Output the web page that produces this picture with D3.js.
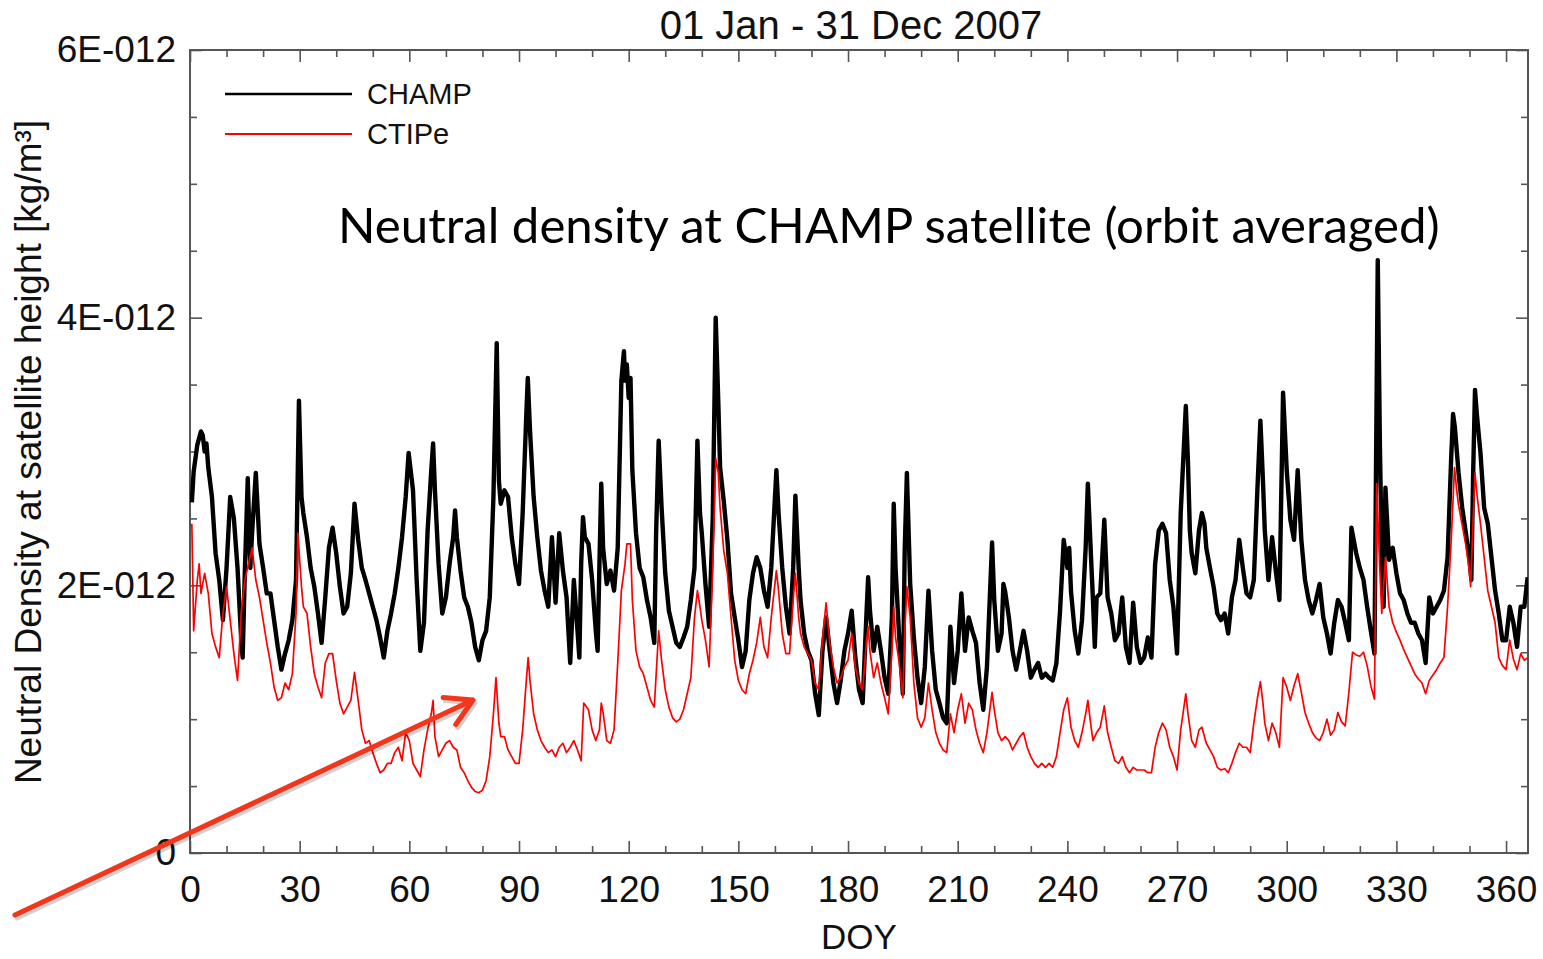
<!DOCTYPE html>
<html><head><meta charset="utf-8">
<script src="https://cdn.jsdelivr.net/npm/d3@7"></script>
<style>
body{margin:0;background:#fff}
svg{display:block}
</style></head>
<body><svg id="c" width="1543" height="959"></svg>
<script>
// Orbit-averaged neutral density, values in units of 1E-012 kg/m^3, keyed by day of year
const champ = [[0.5,2.62],[1,2.85],[2,3.05],[3,3.15],[3.5,3.12],[4,3.0],[4.5,3.06],[5,2.88],[6,2.66],[7,2.24],[8,2.04],[9,1.74],[10,2.13],[11,2.66],[12,2.5],[13,2.13],[14,1.6],[14.4,1.46],[15,2.1],[15.8,2.8],[16.5,2.13],[17,2.4],[18,2.84],[19,2.31],[20,2.13],[21,1.94],[22,1.94],[23,1.74],[24,1.54],[25,1.37],[26,1.49],[27,1.59],[28,1.74],[29,2.04],[29.8,3.38],[30.5,2.66],[31,2.54],[32,2.36],[33,2.13],[34,1.99],[35,1.79],[36,1.57],[37,1.91],[38,2.28],[39,2.43],[40,2.24],[41,1.99],[42,1.79],[43,1.84],[44,2.09],[45,2.61],[46,2.34],[47,2.13],[48,2.04],[49,1.94],[50,1.84],[51,1.74],[52,1.61],[53,1.46],[54,1.66],[55,1.79],[56,1.94],[57,2.13],[58,2.36],[59,2.66],[59.8,2.99],[61,2.71],[62,2.04],[63,1.51],[64,1.72],[65,2.41],[66,2.86],[66.5,3.06],[67,2.71],[68,2.16],[69,1.79],[70,1.91],[71,2.16],[72,2.36],[72.5,2.56],[73,2.36],[74,2.11],[75,1.91],[76,1.84],[77,1.72],[78,1.54],[79,1.44],[80,1.59],[81,1.66],[82,1.91],[83,2.66],[83.9,3.81],[84.5,2.78],[85,2.61],[86,2.71],[87,2.66],[88,2.36],[89,2.16],[90,2.01],[91,2.54],[92,3.28],[92.4,3.55],[93,3.16],[94,2.66],[95,2.36],[96,2.11],[97,1.96],[98,1.84],[99,2.36],[100,1.87],[101,2.39],[102,2.11],[103,1.91],[104,1.42],[105,2.04],[106,1.66],[106.5,1.46],[107,2.16],[107.5,2.51],[108,2.36],[109,2.31],[110,2.04],[111,1.66],[111.5,1.51],[112,2.16],[112.5,2.76],[113,2.28],[114,2.01],[115,2.11],[116,1.96],[117,2.28],[118,3.53],[118.7,3.75],[119,3.53],[119.5,3.65],[120,3.4],[120.5,3.55],[121,2.86],[122,2.39],[123,2.13],[124,2.06],[125,1.89],[126,1.76],[127,1.57],[127.5,2.39],[128.2,3.08],[129,2.58],[130,2.09],[131,1.81],[132,1.69],[133,1.57],[134,1.54],[135,1.61],[136,1.69],[137,1.89],[138,2.13],[138.8,3.08],[139.5,2.54],[140,2.39],[141,2.01],[142,1.69],[143,2.51],[143.8,4.0],[144.5,3.38],[145,2.88],[146,2.63],[147,2.34],[148,1.94],[149,1.76],[150,1.59],[151,1.39],[152,1.51],[153,1.89],[154,2.09],[155,2.21],[156,2.13],[157,1.96],[158,1.84],[159,2.13],[160.4,2.86],[161,2.54],[162,2.13],[163,1.84],[164,1.64],[165,2.13],[165.6,2.67],[166.5,2.13],[167,1.89],[168,1.64],[169,1.51],[170,1.44],[171,1.19],[172,1.03],[173,1.51],[174,1.76],[175,1.51],[176,1.27],[177,1.12],[178,1.29],[179,1.51],[180,1.64],[181,1.81],[182,1.46],[183,1.22],[184,1.12],[185,1.76],[185.5,2.06],[186,1.81],[187,1.51],[188,1.69],[189,1.51],[190,1.31],[191,1.19],[192,1.76],[192.5,2.61],[193,2.13],[194,1.61],[195,1.19],[195.5,2.26],[196.1,2.84],[197,2.01],[198,1.61],[199,1.31],[200,1.12],[201,1.39],[202,1.96],[203,1.51],[204,1.22],[205,1.12],[206,1.01],[207,0.97],[208,1.69],[209,1.27],[210,1.51],[211,1.94],[212,1.51],[213,1.76],[214,1.66],[215,1.57],[216,1.27],[217,1.07],[218,1.39],[219.4,2.32],[220,1.89],[221,1.51],[222,1.64],[222.5,2.01],[223,1.95],[224,1.76],[225,1.51],[226,1.37],[227,1.51],[228,1.66],[229,1.51],[230,1.31],[231,1.37],[232,1.42],[233,1.31],[234,1.34],[235,1.31],[236,1.29],[237,1.42],[238,1.81],[239,2.34],[240,2.13],[240.5,2.28],[241,1.95],[242,1.66],[243,1.49],[244,1.74],[245,2.28],[245.6,2.76],[246.5,2.19],[247,1.89],[247.5,1.54],[248,1.91],[249,1.94],[250.1,2.49],[251,1.91],[252,1.79],[253,1.59],[254,1.64],[255,1.91],[256,1.54],[257,1.42],[258,1.87],[259,1.54],[260,1.42],[261,1.46],[262,1.61],[263,1.46],[264,2.16],[265,2.41],[266,2.46],[267,2.39],[268,2.04],[269,1.84],[270,1.49],[271,2.54],[272.4,3.34],[273,2.91],[273.5,2.41],[274,2.24],[275,2.09],[276,2.41],[276.8,2.54],[277.5,2.46],[278,2.28],[279,2.13],[280,1.99],[281,1.79],[282,1.74],[283,1.79],[284,1.64],[285,1.91],[286,2.04],[287,2.34],[288,2.13],[289,1.94],[290,1.91],[291,2.04],[292,2.73],[292.8,3.23],[293.5,2.78],[294,2.41],[295,2.04],[296,2.36],[297,2.11],[298,1.89],[299,3.44],[300,2.86],[301,2.49],[302,2.34],[303,2.86],[304,2.34],[305,2.04],[306,1.89],[307,1.79],[308,1.89],[309,2.01],[310,1.76],[311,1.64],[312,1.49],[313,1.72],[314,1.89],[315,1.84],[316,1.72],[317,1.59],[317.7,2.43],[319,2.24],[320,2.13],[321,2.04],[322,1.84],[323,1.66],[324,1.49],[324.9,4.43],[325.5,3.03],[326,2.21],[326.5,1.84],[327,2.73],[328,2.19],[329,2.28],[330,2.09],[331,1.94],[332,1.89],[333,1.79],[334,1.72],[335,1.72],[336,1.64],[337,1.59],[338,1.42],[339,1.91],[340,1.79],[341,1.84],[342,1.89],[343,1.96],[344,2.21],[345,2.96],[345.5,3.28],[346,3.18],[347,2.84],[348,2.58],[349,2.39],[350,2.19],[350.5,2.04],[351,2.84],[351.5,3.46],[352,3.28],[353,2.99],[354,2.58],[355,2.46],[356,2.21],[357,1.96],[358,1.79],[359,1.59],[360,1.59],[361,1.84],[362,1.72],[363,1.54],[364,1.84],[365,1.84],[365.9,2.06]];

const ctipe = [[0.5,2.46],[1,1.66],[2,2.04],[2.5,2.16],[3,1.94],[4,2.09],[5,1.94],[6,1.64],[7,1.54],[8,1.46],[9,1.79],[10,1.99],[11,1.74],[12,1.49],[13,1.29],[14,1.79],[15,2.04],[16,2.16],[17,2.28],[18,2.04],[19,1.91],[20,1.74],[21,1.57],[22,1.42],[23,1.24],[24,1.14],[25,1.16],[26,1.27],[27,1.22],[28,1.34],[29,1.79],[29.5,2.39],[30.5,1.99],[31,1.84],[32,1.79],[33,1.54],[34,1.34],[35,1.24],[36,1.16],[37,1.42],[38,1.49],[39,1.49],[40,1.29],[41,1.12],[42,1.04],[43,1.09],[44,1.14],[45,1.35],[46,1.14],[47,0.92],[48,0.82],[49,0.84],[50,0.75],[51,0.67],[52,0.6],[53,0.62],[54,0.67],[55,0.67],[56,0.75],[57,0.79],[58,0.69],[59,0.9],[60,0.84],[61,0.67],[62,0.62],[63,0.57],[64,0.77],[65,0.92],[66,1.04],[66.5,1.14],[67,0.87],[68,0.72],[69,0.77],[70,0.82],[71,0.84],[72,0.79],[73,0.77],[74,0.64],[75,0.6],[76,0.54],[77,0.49],[78,0.46],[79,0.45],[80,0.47],[81,0.54],[82,0.72],[83,1.04],[83.7,1.31],[84.5,0.97],[85,0.87],[86,0.87],[87,0.77],[88,0.72],[89,0.67],[90,0.67],[91,0.92],[92,1.29],[92.5,1.46],[93,1.29],[94,1.04],[95,0.92],[96,0.84],[97,0.79],[98,0.75],[99,0.77],[100,0.72],[101,0.79],[102,0.82],[103,0.75],[104,0.79],[105,0.84],[106,0.77],[107,0.69],[107.7,1.12],[109,1.07],[110,0.92],[111,0.84],[112,0.92],[112.5,1.12],[113,1.05],[114,0.84],[115,0.82],[116,0.92],[117,1.42],[118,1.96],[119,2.16],[119.5,2.31],[120.5,2.31],[121,1.89],[122,1.51],[123,1.39],[124,1.34],[125,1.24],[126,1.14],[127,1.09],[128.2,1.66],[129,1.44],[130,1.22],[131,1.09],[132,1.01],[133,0.98],[134,1.0],[135,1.07],[136,1.19],[137,1.31],[138,1.76],[138.8,1.96],[139.5,1.84],[140,1.74],[141,1.59],[142,1.39],[143,2.13],[143.8,2.95],[144.5,2.84],[145,2.58],[146,2.26],[147,2.09],[148,1.76],[149,1.44],[150,1.29],[151,1.22],[152,1.19],[153,1.34],[154,1.44],[155,1.57],[156,1.76],[157,1.54],[158,1.46],[159,1.76],[160.4,2.11],[161,1.96],[162,1.64],[163,1.49],[164,1.49],[165,1.89],[165.6,2.09],[166.5,1.76],[167,1.64],[168,1.54],[169,1.49],[170,1.44],[171,1.27],[172,1.22],[173,1.59],[174,1.87],[175,1.57],[176,1.39],[177,1.27],[178,1.31],[179,1.39],[180,1.44],[181,1.64],[182,1.39],[183,1.27],[184,1.22],[185,1.57],[185.5,1.69],[186,1.51],[187,1.31],[188,1.42],[189,1.27],[190,1.16],[191,1.04],[192,1.51],[192.5,1.84],[193,1.61],[194,1.42],[195,1.16],[195.5,1.64],[196.1,1.99],[197,1.76],[198,1.27],[199,1.01],[200,0.94],[201,1.01],[202,1.27],[203,1.07],[204,0.9],[205,0.82],[206,0.77],[207,0.75],[208,1.04],[209,0.9],[210,1.07],[211,1.19],[212,0.97],[213,1.12],[214,1.07],[215,0.92],[216,0.82],[217,0.75],[218,0.9],[219.4,1.2],[220,1.07],[221,0.9],[222,0.84],[223,0.87],[224,0.84],[225,0.77],[226,0.82],[227,0.87],[228,0.9],[229,0.79],[230,0.72],[231,0.67],[232,0.64],[233,0.67],[234,0.64],[235,0.67],[236,0.64],[237,0.72],[238,0.9],[239,1.07],[240,1.16],[241,0.94],[242,0.84],[243,0.79],[244,0.9],[245,1.04],[245.6,1.14],[246.5,0.94],[247,0.84],[248,0.9],[249,0.94],[250.1,1.1],[251,0.9],[252,0.79],[253,0.69],[254,0.67],[255,0.72],[256,0.64],[257,0.6],[258,0.64],[259,0.62],[260,0.62],[261,0.62],[262,0.6],[263,0.6],[264,0.79],[265,0.9],[266,0.97],[267,0.92],[268,0.79],[269,0.72],[270,0.62],[271,0.92],[272.4,1.19],[273,1.04],[274,0.84],[275,0.79],[276,0.92],[276.8,0.94],[278,0.82],[279,0.77],[280,0.72],[281,0.64],[282,0.62],[283,0.63],[284,0.6],[285,0.67],[286,0.75],[287,0.82],[288,0.79],[289,0.79],[290,0.75],[291,0.97],[292,1.16],[292.8,1.28],[293.5,1.12],[294,0.97],[295,0.84],[296,0.97],[297,0.9],[298,0.79],[299,1.31],[300,1.24],[301,1.14],[302,1.25],[303,1.34],[304,1.2],[305,1.05],[306,0.97],[307,0.9],[308,0.86],[309,0.84],[310,0.9],[311,1.0],[312,0.88],[313,0.92],[314,1.05],[315,0.98],[316,0.95],[317,1.2],[318,1.5],[319,1.48],[320,1.47],[321,1.5],[322,1.4],[323,1.25],[324,1.15],[324.6,2.76],[325.5,2.09],[326,1.79],[327,2.21],[328,1.84],[329,1.72],[330,1.65],[331,1.59],[332,1.52],[333,1.46],[334,1.4],[335,1.34],[336,1.3],[337,1.27],[338,1.19],[339,1.29],[340,1.33],[341,1.37],[342,1.42],[343,1.46],[344,1.84],[345,2.34],[345.9,2.88],[346.5,2.71],[347,2.6],[348,2.45],[349,2.3],[350,2.1],[350.3,1.99],[351,2.5],[351.5,2.84],[352,2.69],[353,2.46],[354,2.21],[355,1.96],[356,1.84],[357,1.72],[358,1.46],[359,1.4],[360,1.37],[361,1.59],[362,1.45],[363,1.37],[364,1.49],[365,1.44],[365.9,1.46]];

const UNIT = 1e-12;
const seriesNames = ["CHAMP", "CTIPe"];
const seriesColors = ["#000000", "#ff0000"];
const xMajorTicks = [0,30,60,90,120,150,180,210,240,270,300,330,360];
const yMajorTicks = [0, 2e-12, 4e-12, 6e-12];
const yTickLabels = ["0", "2E-012", "4E-012", "6E-012"];
const titleText = "01 Jan - 31 Dec 2007";
const xLabel = "DOY";
const yLabel = "Neutral Density at satellite height [kg/m\u00B3]";
const noteText = "Neutral density at CHAMP satellite (orbit averaged)";

const svg = d3.select("#c");
const L = 190, R = 1528, T = 50, B = 853;
const x = d3.scaleLinear().domain([0, 366]).range([L, R]);
const y = d3.scaleLinear().domain([0, 6e-12]).range([B, T]);
const axisColor = "#555";
const font = "'Liberation Sans', Arial, sans-serif";

const xMinor = d3.range(0, 367, 10).filter(v => v % 30 !== 0);
const yMinor = d3.range(0, 6.01, 0.5).map(v => v * UNIT).filter(v => !yMajorTicks.some(t => Math.abs(t - v) < 1e-15));

function styleAxis(g) {
  g.select(".domain").remove();
  g.selectAll("line").attr("stroke", axisColor).attr("stroke-width", 1.6);
  g.selectAll("text").attr("fill", "#111").style("font-family", font);
}

// bottom
svg.append("g").attr("transform", `translate(0,${B})`)
  .call(d3.axisBottom(x).tickValues(xMajorTicks).tickSize(-12).tickPadding(23).tickFormat(d3.format("d")))
  .call(styleAxis).call(g => g.selectAll("text").style("font-size", "37px"));
svg.append("g").attr("transform", `translate(0,${B})`)
  .call(d3.axisBottom(x).tickValues(xMinor).tickSize(-7).tickFormat(""))
  .call(styleAxis);
// top
svg.append("g").attr("transform", `translate(0,${T})`)
  .call(d3.axisTop(x).tickValues(xMajorTicks).tickSize(-12).tickFormat(""))
  .call(styleAxis);
svg.append("g").attr("transform", `translate(0,${T})`)
  .call(d3.axisTop(x).tickValues(xMinor).tickSize(-7).tickFormat(""))
  .call(styleAxis);
// left
svg.append("g").attr("transform", `translate(${L},0)`)
  .call(d3.axisLeft(y).tickValues(yMajorTicks).tickSize(-12).tickPadding(14).tickFormat((d, i) => yTickLabels[i]))
  .call(styleAxis).call(g => g.selectAll("text").style("font-size", "37px"));
svg.append("g").attr("transform", `translate(${L},0)`)
  .call(d3.axisLeft(y).tickValues(yMinor).tickSize(-7).tickFormat(""))
  .call(styleAxis);
// right
svg.append("g").attr("transform", `translate(${R},0)`)
  .call(d3.axisRight(y).tickValues(yMajorTicks).tickSize(-12).tickFormat(""))
  .call(styleAxis);
svg.append("g").attr("transform", `translate(${R},0)`)
  .call(d3.axisRight(y).tickValues(yMinor).tickSize(-7).tickFormat(""))
  .call(styleAxis);

// frame
svg.append("rect").attr("x", L).attr("y", T).attr("width", R - L).attr("height", B - T)
  .attr("fill", "none").attr("stroke", axisColor).attr("stroke-width", 2);

// clip
svg.append("clipPath").attr("id", "clip").append("rect")
  .attr("x", L).attr("y", T).attr("width", R - L).attr("height", B - T);

const line = d3.line().x(d => x(d[0])).y(d => y(d[1] * UNIT));
const plot = svg.append("g").attr("clip-path", "url(#clip)");
plot.append("path").datum(champ).attr("d", line).attr("fill", "none")
  .attr("stroke", seriesColors[0]).attr("stroke-width", 4.4).attr("stroke-linejoin", "round");
plot.append("path").datum(ctipe).attr("d", line).attr("fill", "none")
  .attr("stroke", seriesColors[1]).attr("stroke-width", 1.7).attr("stroke-linejoin", "round");

// legend
const leg = svg.append("g");
seriesNames.forEach((name, i) => {
  const yy = 94 + i * 40;
  leg.append("line").attr("x1", 225).attr("x2", 352).attr("y1", yy).attr("y2", yy)
    .attr("stroke", seriesColors[i]).attr("stroke-width", i === 0 ? 2.4 : 1.8);
  leg.append("text").attr("x", 367).attr("y", yy + 10).text(name)
    .style("font-family", font).style("font-size", "29px").attr("fill", "#111");
});

// titles
svg.append("text").attr("x", 851).attr("y", 39).attr("text-anchor", "middle").text(titleText)
  .style("font-family", font).style("font-size", "40px").attr("fill", "#111");
svg.append("text").attr("x", 859).attr("y", 949).attr("text-anchor", "middle").text(xLabel)
  .style("font-family", font).style("font-size", "35px").attr("fill", "#111");
svg.append("text").attr("transform", "translate(41,452) rotate(-90)").attr("text-anchor", "middle").text(yLabel)
  .style("font-family", font).style("font-size", "37px").attr("fill", "#111");

// annotation text
const note = svg.append("text").attr("x", 338).attr("y", 243).text(noteText)
  .style("font-family", "Lato, 'Open Sans', sans-serif").style("font-size", "40px").attr("fill", "#000");
const w = note.node().getComputedTextLength();
note.style("font-size", (40 * 1102 / w).toFixed(2) + "px");

// red arrow annotation
const a0 = [15, 915], a1 = [473, 700];
const ang = Math.atan2(a0[1] - a1[1], a0[0] - a1[0]);
const headLen = 30, spread = 0.52;
const arm1 = [a1[0] + headLen * Math.cos(ang + spread), a1[1] + headLen * Math.sin(ang + spread)];
const arm2 = [a1[0] + headLen * Math.cos(ang - spread), a1[1] + headLen * Math.sin(ang - spread)];
const arrowPath = `M${a0}L${a1}M${arm1}L${a1}L${arm2}`;
svg.append("path").attr("d", arrowPath).attr("transform", "translate(2,3)")
  .attr("fill", "none").attr("stroke", "#000").attr("stroke-opacity", 0.18)
  .attr("stroke-width", 5).attr("stroke-linecap", "round").attr("stroke-linejoin", "round");
svg.append("path").attr("d", arrowPath)
  .attr("fill", "none").attr("stroke", "#f2361c")
  .attr("stroke-width", 5).attr("stroke-linecap", "round").attr("stroke-linejoin", "round");
</script>
</body></html>
